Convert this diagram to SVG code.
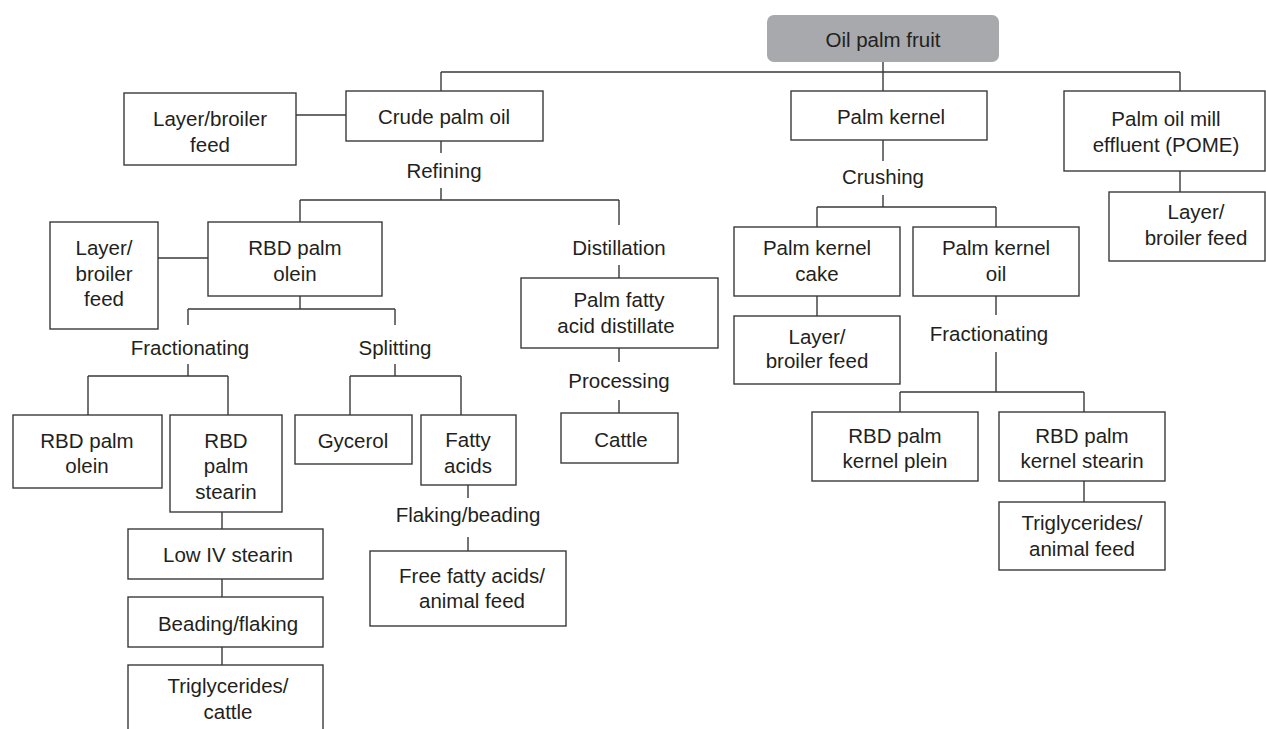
<svg xmlns="http://www.w3.org/2000/svg" width="1266" height="729" viewBox="0 0 1266 729">
<style>
.box{fill:#fff;stroke:#3a3a3a;stroke-width:1.4}
.root{fill:#a7a9ac;stroke:none}
.ln{fill:none;stroke:#3a3a3a;stroke-width:1.4}
text{font-family:"Liberation Sans",Arial,sans-serif;font-size:20.5px;fill:#231f20;text-anchor:middle}
</style>
<rect width="1266" height="729" fill="#fff"/>
<g id="connectors" class="ln">
<path d="M883 62V91M441 72H1180M441 72V91M1180 72V91"/>
<path d="M296 115H346"/>
<path d="M441 141V153M441 188V200M300 200H619M300 200V222M619 200V225"/>
<path d="M158 258H208"/>
<path d="M300 296V309M188 309H395M188 309V325M395 309V325"/>
<path d="M188 364V376M88 376H228M88 376V415M228 376V415"/>
<path d="M395 364V376M350 376H461M350 376V415M461 376V415"/>
<path d="M222 512V529M222 579V597M222 647V665"/>
<path d="M468 485V498M468 537V551"/>
<path d="M619 265V278M619 348V362M619 400V413"/>
<path d="M883 140V161M883 195V207M817 207H996M817 207V227M996 207V227"/>
<path d="M817 296V316"/>
<path d="M996 296V315M996 352V392M900 392H1084M900 392V412M1084 392V412M1084 481V502"/>
<path d="M1180 171V192"/>
</g>
<g id="n-fruit"><rect class="root" x="767" y="15" width="232" height="47" rx="7"/><text x="883" y="47">Oil palm fruit</text></g>
<g id="n-cpo"><rect class="box" x="346" y="91" width="197" height="50"/><text x="444" y="124">Crude palm oil</text></g>
<g id="n-feed1"><rect class="box" x="124" y="93" width="172" height="72"/><text x="210" y="126">Layer/broiler</text><text x="210" y="152">feed</text></g>
<g id="l-refining"><text x="444" y="178">Refining</text></g>
<g id="n-olein1"><rect class="box" x="208" y="222" width="174" height="74"/><text x="295" y="255">RBD palm</text><text x="295" y="281">olein</text></g>
<g id="n-feed2"><rect class="box" x="50" y="222" width="108" height="107"/><text x="104" y="255">Layer/</text><text x="104" y="281">broiler</text><text x="104" y="306">feed</text></g>
<g id="l-fract1"><text x="190" y="355">Fractionating</text></g>
<g id="l-split"><text x="395" y="355">Splitting</text></g>
<g id="n-olein2"><rect class="box" x="13" y="415" width="149" height="73"/><text x="87" y="448">RBD palm</text><text x="87" y="473">olein</text></g>
<g id="n-stearin"><rect class="box" x="170" y="415" width="112" height="97"/><text x="226" y="448">RBD</text><text x="226" y="473">palm</text><text x="226" y="499">stearin</text></g>
<g id="n-gly"><rect class="box" x="295" y="415" width="117" height="49"/><text x="353" y="448">Gycerol</text></g>
<g id="n-fatty"><rect class="box" x="421" y="415" width="95" height="70"/><text x="468" y="447">Fatty</text><text x="468" y="473">acids</text></g>
<g id="n-lowiv"><rect class="box" x="128" y="529" width="195" height="50"/><text x="228" y="562">Low IV stearin</text></g>
<g id="n-bead"><rect class="box" x="128" y="597" width="195" height="50"/><text x="228" y="631">Beading/flaking</text></g>
<g id="n-trig1"><rect class="box" x="128" y="665" width="195" height="80"/><text x="228" y="693">Triglycerides/</text><text x="228" y="719">cattle</text></g>
<g id="l-flak"><text x="468" y="522">Flaking/beading</text></g>
<g id="n-ffa"><rect class="box" x="370" y="551" width="196" height="75"/><text x="472" y="583">Free fatty acids/</text><text x="472" y="608">animal feed</text></g>
<g id="l-dist"><text x="619" y="255">Distillation</text></g>
<g id="n-pfad"><rect class="box" x="521" y="278" width="197" height="70"/><text x="619" y="307">Palm fatty</text><text x="616" y="333">acid distillate</text></g>
<g id="l-proc"><text x="619" y="388">Processing</text></g>
<g id="n-cattle"><rect class="box" x="561" y="413" width="117" height="50"/><text x="621" y="447">Cattle</text></g>
<g id="n-pk"><rect class="box" x="791" y="91" width="196" height="49"/><text x="891" y="124">Palm kernel</text></g>
<g id="l-crush"><text x="883" y="184">Crushing</text></g>
<g id="n-pkc"><rect class="box" x="734" y="227" width="166" height="69"/><text x="817" y="255">Palm kernel</text><text x="817" y="281">cake</text></g>
<g id="n-pko"><rect class="box" x="913" y="227" width="166" height="69"/><text x="996" y="255">Palm kernel</text><text x="996" y="281">oil</text></g>
<g id="n-feed3"><rect class="box" x="734" y="316" width="166" height="68"/><text x="817" y="344">Layer/</text><text x="817" y="368">broiler feed</text></g>
<g id="l-fract2"><text x="989" y="341">Fractionating</text></g>
<g id="n-pkolein"><rect class="box" x="812" y="412" width="166" height="69"/><text x="895" y="443">RBD palm</text><text x="895" y="468">kernel plein</text></g>
<g id="n-pkstearin"><rect class="box" x="999" y="412" width="166" height="69"/><text x="1082" y="443">RBD palm</text><text x="1082" y="468">kernel stearin</text></g>
<g id="n-trig2"><rect class="box" x="999" y="502" width="166" height="68"/><text x="1082" y="530">Triglycerides/</text><text x="1082" y="556">animal feed</text></g>
<g id="n-pome"><rect class="box" x="1064" y="91" width="201" height="80"/><text x="1166" y="126">Palm oil mill</text><text x="1166" y="152">effluent (POME)</text></g>
<g id="n-feed4"><rect class="box" x="1109" y="192" width="156" height="69"/><text x="1196" y="219">Layer/</text><text x="1196" y="245">broiler feed</text></g>
</svg>
